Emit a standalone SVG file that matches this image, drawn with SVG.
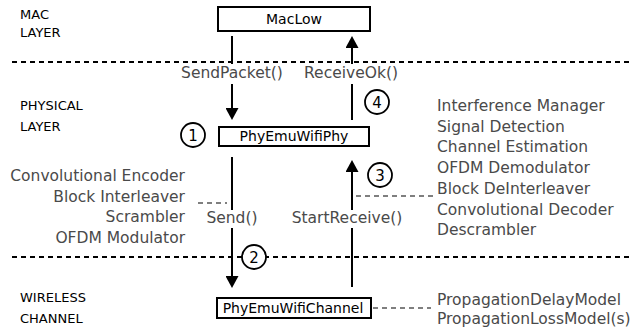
<svg xmlns="http://www.w3.org/2000/svg" width="644" height="333" viewBox="0 0 644 333">
<defs>
<style>
.box{fill:#fff;stroke:#000;stroke-width:2}
.bt{font-family:"DejaVu Sans",sans-serif;font-size:14px;fill:#000;text-anchor:middle}
.layer{font-family:"DejaVu Sans",sans-serif;font-size:13px;fill:#000}
.lbl{font-family:"DejaVu Sans",sans-serif;font-size:15.5px;fill:#4a4a4a}
.sep{stroke:#000;stroke-width:2;stroke-dasharray:5 4;fill:none}
.conn{stroke:#000;stroke-width:2;fill:none}
.dash{stroke:#555;stroke-width:1.6;stroke-dasharray:5 4;fill:none}
.circ{fill:#fff;stroke:#000;stroke-width:1.8}
.num{font-family:"DejaVu Sans",sans-serif;font-size:15px;fill:#000;text-anchor:middle}
</style>
<marker id="ah" viewBox="0 0 12 13" refX="6" refY="6.5" markerWidth="12" markerHeight="13" markerUnits="userSpaceOnUse" orient="auto">
<path d="M0,0 L12,6.5 L0,13 z" fill="#000"/>
</marker>
</defs>
<rect width="644" height="333" fill="#fff"/>
<g id="separators">
<line class="sep" x1="12" y1="62" x2="632" y2="62"/>
<line class="sep" x1="12" y1="257" x2="632" y2="257"/>
</g>
<g id="layers">
<text class="layer" x="20" y="19">MAC</text>
<text class="layer" x="20" y="37">LAYER</text>
<text class="layer" x="20" y="110">PHYSICAL</text>
<text class="layer" x="20" y="131">LAYER</text>
<text class="layer" x="20" y="302">WIRELESS</text>
<text class="layer" x="20" y="323">CHANNEL</text>
</g>
<g id="connectors">
<line class="conn" x1="232" y1="36" x2="232" y2="64"/>
<line class="conn" x1="232" y1="84" x2="232" y2="114" marker-end="url(#ah)"/>
<line class="conn" x1="352" y1="120" x2="352" y2="84"/>
<line class="conn" x1="352" y1="64" x2="352" y2="42" marker-end="url(#ah)"/>
<line class="conn" x1="232" y1="157" x2="232" y2="210"/>
<line class="conn" x1="232" y1="228" x2="232" y2="282" marker-end="url(#ah)"/>
<line class="conn" x1="352" y1="287" x2="352" y2="228"/>
<line class="conn" x1="352" y1="210" x2="352" y2="166" marker-end="url(#ah)"/>
<line class="dash" x1="198" y1="203" x2="227" y2="203"/>
<line class="dash" x1="356" y1="196" x2="434" y2="196"/>
<line class="dash" x1="373" y1="308" x2="431" y2="308"/>
</g>
<g id="labels">
<text class="lbl" x="232" y="78" text-anchor="middle">SendPacket()</text>
<text class="lbl" x="351" y="78" text-anchor="middle">ReceiveOk()</text>
<text class="lbl" x="232" y="223" text-anchor="middle">Send()</text>
<text class="lbl" x="347" y="223" text-anchor="middle">StartReceive()</text>
</g>
<g id="tx-chain">
<text class="lbl" x="185" y="181" text-anchor="end">Convolutional Encoder</text>
<text class="lbl" x="185" y="202" text-anchor="end">Block Interleaver</text>
<text class="lbl" x="185" y="222" text-anchor="end">Scrambler</text>
<text class="lbl" x="185" y="243" text-anchor="end">OFDM Modulator</text>
</g>
<g id="rx-chain">
<text class="lbl" x="437" y="111">Interference Manager</text>
<text class="lbl" x="437" y="132">Signal Detection</text>
<text class="lbl" x="437" y="152">Channel Estimation</text>
<text class="lbl" x="437" y="173">OFDM Demodulator</text>
<text class="lbl" x="437" y="194">Block DeInterleaver</text>
<text class="lbl" x="437" y="215">Convolutional Decoder</text>
<text class="lbl" x="437" y="235">Descrambler</text>
</g>
<g id="channel-models">
<text class="lbl" x="437" y="305">PropagationDelayModel</text>
<text class="lbl" x="437" y="324">PropagationLossModel(s)</text>
</g>
<g id="maclow">
<rect class="box" x="218" y="7" width="152" height="24"/>
<text class="bt" x="294" y="24">MacLow</text>
</g>
<g id="phyemuwifiphy">
<rect class="box" x="219" y="127" width="150" height="19"/>
<text class="bt" x="294" y="141">PhyEmuWifiPhy</text>
</g>
<g id="phyemuwifichannel">
<rect class="box" x="217" y="298" width="154" height="20"/>
<text class="bt" x="293" y="313">PhyEmuWifiChannel</text>
</g>
<g id="step1"><circle class="circ" cx="193" cy="135" r="12"/><text class="num" x="193" y="140.5">1</text></g>
<g id="step2"><circle class="circ" cx="254" cy="257" r="12"/><text class="num" x="254" y="262.5">2</text></g>
<g id="step3"><circle class="circ" cx="380" cy="175" r="12"/><text class="num" x="380" y="180.5">3</text></g>
<g id="step4"><circle class="circ" cx="377" cy="102" r="12"/><text class="num" x="377" y="107.5">4</text></g>
</svg>
